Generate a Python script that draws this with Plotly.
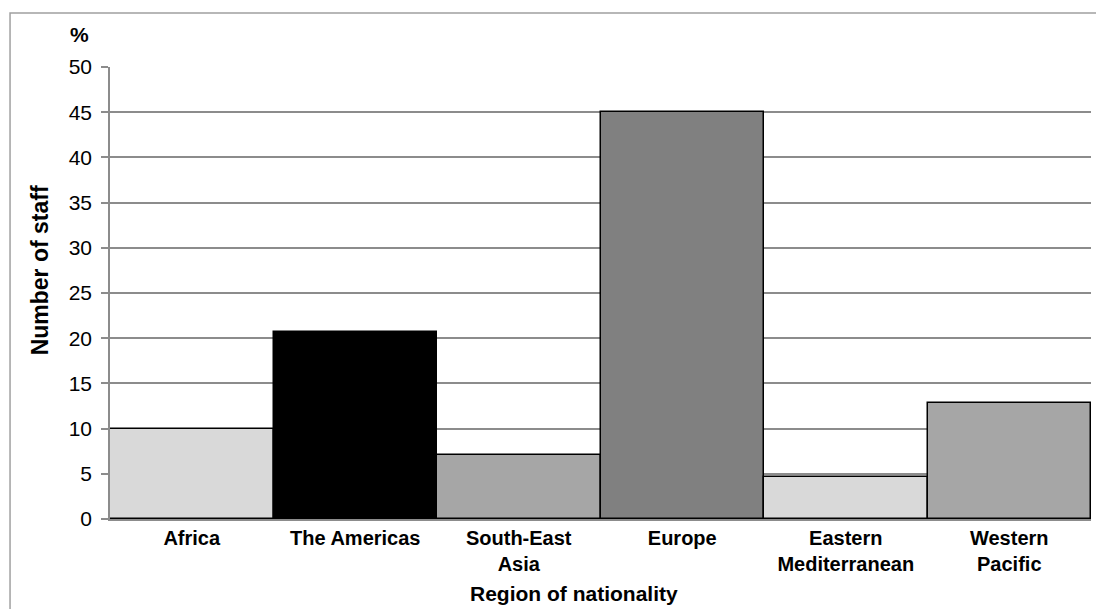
import plotly.graph_objects as go

# Staff share by region of nationality (%)
regions = ["Africa", "The Americas", "South-East<br>Asia", "Europe",
           "Eastern<br>Mediterranean", "Western<br>Pacific"]
staff_pct = [10.0, 20.7, 7.1, 45.0, 4.6, 12.8]
bar_colors = ["#d9d9d9", "#000000", "#a6a6a6", "#808080", "#d9d9d9", "#a6a6a6"]
y_ticks = list(range(0, 55, 5))

FONT = "Liberation Sans, Arial, sans-serif"
GRID = "#8c8c8c"

fig = go.Figure(
    go.Bar(
        x=regions,
        y=staff_pct,
        marker=dict(color=bar_colors, line=dict(color="#000000", width=1.5)),
        hoverinfo="x+y",
    )
)

fig.update_layout(
    width=1096,
    height=609,
    margin=dict(l=110, r=5, t=67, b=90),
    paper_bgcolor="#ffffff",
    plot_bgcolor="#ffffff",
    bargap=0,
    showlegend=False,
    font=dict(family=FONT, color="#000000"),
)

fig.update_xaxes(
    showline=True,
    linecolor=GRID,
    linewidth=1.5,
    ticks="",
    tickfont=dict(family=FONT, size=20, color="#000000", weight="bold"),
    showgrid=False,
)

fig.update_yaxes(
    range=[0, 50],
    tickvals=y_ticks,
    ticks="outside",
    ticklen=7,
    tickcolor=GRID,
    tickwidth=1.5,
    ticklabelstandoff=5,
    showline=True,
    linecolor=GRID,
    linewidth=1.5,
    showgrid=True,
    gridcolor=GRID,
    gridwidth=1.5,
    zeroline=False,
    tickfont=dict(family=FONT, size=21, color="#000000"),
)

fig.add_annotation(
    text="<b>%</b>", xref="paper", yref="paper", x=-0.0306, y=1.071,
    showarrow=False, font=dict(family=FONT, size=21), xanchor="center", yanchor="middle",
)
fig.add_annotation(
    text="<b>Number of staff</b>", xref="paper", yref="paper", x=-0.0714, y=0.55,
    textangle=-90, showarrow=False, font=dict(family=FONT, size=23),
    xanchor="center", yanchor="middle",
)
fig.add_annotation(
    text="<b>Region of nationality</b>", xref="paper", yref="paper", x=0.473, y=-0.164,
    showarrow=False, font=dict(family=FONT, size=21), xanchor="center", yanchor="middle",
)

# Frame around the whole chart
fig.add_shape(
    type="rect", xref="paper", yref="paper",
    x0=-0.1019, y0=-0.4, x1=1.05, y1=1.1195,
    line=dict(color="#a0a0a0", width=1.5), layer="below",
)

fig.write_html("out.html")
